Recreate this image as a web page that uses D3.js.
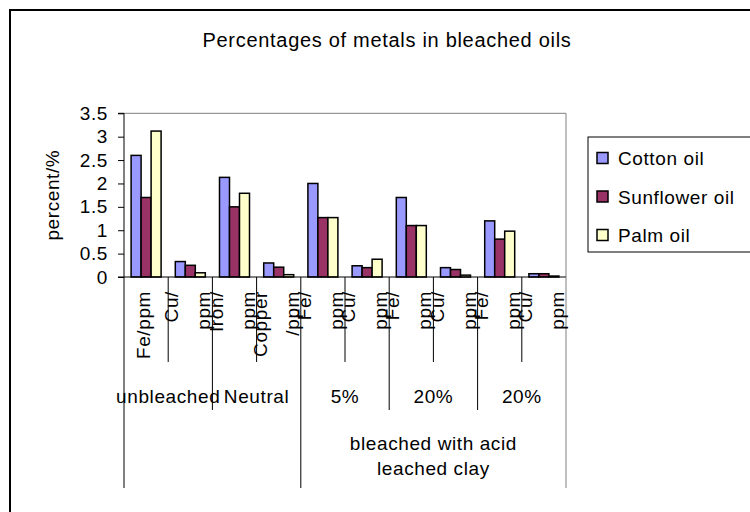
<!DOCTYPE html>
<html>
<head>
<meta charset="utf-8">
<script src="https://cdn.jsdelivr.net/npm/d3@7"></script>
<style>
  html, body { margin: 0; padding: 0; background: #fff; }
  svg { display: block; font-family: "Liberation Sans", Arial, sans-serif; }
</style>
</head>
<body>
<svg id="chart" width="750" height="512"></svg>
<script>
// ---------- data ----------
const title = "Percentages of metals in bleached oils";
const yTitle = "percent/%";
const seriesNames = ["Cotton oil", "Sunflower oil", "Palm oil"];
const seriesColors = ["#9999FF", "#993366", "#FFFFCC"];
const metalLabels = [["Fe/ppm"], ["Cu/", "ppm"], ["Iron/", "ppm"], ["Copper", "/ppm"],
                     ["Fe/", "ppm"], ["Cu/", "ppm"], ["Fe/", "ppm"], ["Cu/", "ppm"],
                     ["Fe/", "ppm"], ["Cu/", "ppm"]];
const treatmentLabels = ["unbleached", "Neutral", "5%", "20%", "20%"];
const treatmentSpans = [2, 2, 2, 2, 2];
const clayLabels = [[], ["bleached with acid", "leached clay"]];
const claySpans = [4, 6];
const cottonValues    = [2.60, 0.33, 2.13, 0.30, 2.00, 0.24, 1.70, 0.20, 1.20, 0.07];
const sunflowerValues = [1.70, 0.25, 1.50, 0.21, 1.27, 0.20, 1.10, 0.16, 0.81, 0.07];
const palmValues      = [3.12, 0.09, 1.79, 0.05, 1.27, 0.38, 1.10, 0.04, 0.98, 0.02];
const yTicks = [0, 0.5, 1, 1.5, 2, 2.5, 3, 3.5];

const seriesValues = [cottonValues, sunflowerValues, palmValues];

// ---------- layout ----------
const svg = d3.select("#chart");
const plot = { left: 124, right: 566, top: 113.3, bottom: 277 };
const fontSize = 19;
const ls = "0.6px";

// outer chart frame (extends beyond the visible window)
svg.append("rect").attr("x", 10).attr("y", 10).attr("width", 800).attr("height", 560)
  .attr("fill", "none").attr("stroke", "#000").attr("stroke-width", 2);

// title
svg.append("text").attr("x", 387).attr("y", 47).attr("text-anchor", "middle")
  .attr("font-size", 20).attr("letter-spacing", "0.7px").attr("fill", "#000").text(title);

const x = d3.scaleBand().domain(d3.range(metalLabels.length)).range([plot.left, plot.right]).padding(0);
const xs = d3.scaleBand().domain(d3.range(seriesNames.length)).range([0, x.bandwidth()])
  .paddingInner(0).paddingOuter(0.71);
const y = d3.scaleLinear().domain([0, 3.5]).range([plot.bottom, plot.top]);

// plot area border (grey top and right)
svg.append("path")
  .attr("d", `M${plot.left},${plot.top}H${plot.right}V${plot.bottom}`)
  .attr("fill", "none").attr("stroke", "#808080").attr("stroke-width", 1);

// bars
const rows = [];
seriesValues.forEach((vals, s) => vals.forEach((v, i) => rows.push({ s, i, v })));
svg.append("g").selectAll("rect").data(rows).join("rect")
  .attr("x", d => x(d.i) + xs(d.s))
  .attr("y", d => y(d.v))
  .attr("width", xs.bandwidth())
  .attr("height", d => y(0) - y(d.v))
  .attr("fill", d => seriesColors[d.s])
  .attr("stroke", "#000").attr("stroke-width", 1.5);

// y axis
const yAxis = svg.append("g").attr("transform", `translate(${plot.left},0)`)
  .call(d3.axisLeft(y).tickValues(yTicks).tickSize(6).tickPadding(10).tickFormat(d => String(d)));
yAxis.select(".domain").attr("d", `M-6,${plot.top}H0V${plot.bottom}H-6`).attr("stroke", "#000");
yAxis.selectAll("text").attr("font-size", fontSize).attr("letter-spacing", ls)
  .attr("fill", "#000").attr("font-family", "'Liberation Sans', Arial, sans-serif");
yAxis.selectAll(".tick line").attr("stroke", "#000");

// y title
svg.append("text").attr("transform", `translate(59,${(plot.top + plot.bottom) / 2}) rotate(-90)`)
  .attr("text-anchor", "middle").attr("font-size", fontSize).attr("letter-spacing", ls)
  .attr("fill", "#000").text(yTitle);

// x axis baseline
svg.append("line").attr("x1", plot.left).attr("x2", plot.right)
  .attr("y1", plot.bottom).attr("y2", plot.bottom).attr("stroke", "#000");

// multi-level category boundaries
const level1Bottom = 362, level2Bottom = 410, level3Bottom = 488;
const n = metalLabels.length;
const boundaryDepth = d3.range(n + 1).map(() => level1Bottom);
let acc = 0;
treatmentSpans.forEach(sp => { boundaryDepth[acc] = level2Bottom; acc += sp; boundaryDepth[acc] = level2Bottom; });
acc = 0;
claySpans.forEach(sp => { boundaryDepth[acc] = level3Bottom; acc += sp; boundaryDepth[acc] = level3Bottom; });
const edgeX = k => k < n ? x(k) : x(n - 1) + x.bandwidth();
svg.append("g").selectAll("line").data(d3.range(n + 1)).join("line")
  .attr("x1", k => edgeX(k)).attr("x2", k => edgeX(k))
  .attr("y1", plot.bottom).attr("y2", k => boundaryDepth[k])
  .attr("stroke", k => k === n ? "#808080" : "#000").attr("stroke-width", 1);

// level 1 labels (rotated, wrapped)
const lineGap = 32;
const l1 = svg.append("g");
metalLabels.forEach((lines, i) => {
  const c = x(i) + x.bandwidth() / 2 + 4;
  lines.forEach((t, j) => {
    const bx = c + (j - (lines.length - 1) / 2) * lineGap;
    l1.append("text").attr("transform", `translate(${bx},291) rotate(-90)`)
      .attr("text-anchor", "end").attr("font-size", fontSize).attr("letter-spacing", ls)
      .attr("fill", "#000").text(t);
  });
});

// level 2 labels
acc = 0;
treatmentLabels.forEach((t, g) => {
  const a = edgeX(acc), b = edgeX(acc + treatmentSpans[g]);
  svg.append("text").attr("x", (a + b) / 2).attr("y", 403).attr("text-anchor", "middle")
    .attr("font-size", fontSize).attr("letter-spacing", ls).attr("fill", "#000").text(t);
  acc += treatmentSpans[g];
});

// level 3 labels
acc = 0;
clayLabels.forEach((lines, g) => {
  const a = edgeX(acc), b = edgeX(acc + claySpans[g]);
  lines.forEach((t, j) => {
    svg.append("text").attr("x", (a + b) / 2).attr("y", 450 + j * 25).attr("text-anchor", "middle")
      .attr("font-size", fontSize).attr("letter-spacing", ls).attr("fill", "#000").text(t);
  });
  acc += claySpans[g];
});

// legend
const lg = svg.append("g");
lg.append("rect").attr("x", 588).attr("y", 137).attr("width", 200).attr("height", 115)
  .attr("fill", "#fff").attr("stroke", "#000").attr("stroke-width", 1);
seriesNames.forEach((name, s) => {
  const cy = 158 + s * 38.5;
  lg.append("rect").attr("x", 597).attr("y", cy - 5.5).attr("width", 11).attr("height", 11)
    .attr("fill", seriesColors[s]).attr("stroke", "#000").attr("stroke-width", 1.5);
  lg.append("text").attr("x", 618).attr("y", cy + 7).attr("font-size", fontSize)
    .attr("letter-spacing", ls).attr("fill", "#000").text(name);
});
</script>
</body>
</html>
